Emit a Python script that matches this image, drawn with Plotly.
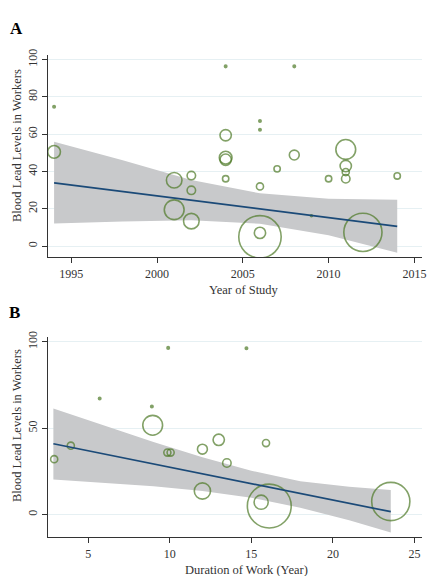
import plotly.graph_objects as go

# ---------------- Panel A: Year of Study ----------------
year = [1994, 1994, 2001, 2001, 2002, 2002, 2002, 2004, 2008, 2006, 2006, 2004, 2004, 2004,
        2004, 2006, 2007, 2008, 2010, 2011, 2011, 2011, 2011, 2014, 2006, 2006, 2012, 2009]
bll_a = [74.7, 50.5, 35.3, 19.5, 37.8, 29.9, 13.4, 96.3, 96.3, 67.0, 62.4, 59.4, 47.4, 46.3,
         36.1, 32.0, 41.4, 48.8, 36.1, 51.8, 42.9, 39.7, 36.1, 37.6, 7.1, 5.0, 7.4, 16.3]
weight_a = [3, 81, 121, 196, 36, 36, 121, 3, 3, 3, 3, 64, 81, 64,
            20, 25, 20, 49, 20, 196, 64, 25, 36, 20, 64, 900, 729, 1]

fit_a_x = [1994, 2014]
fit_a_y = [33.9, 10.6]
ci_a_x = [1994, 1998, 2002, 2006, 2010, 2014]
ci_a_upper = [55.9, 46.0, 35.5, 28.3, 25.4, 24.8]
ci_a_lower = [12.2, 13.2, 13.9, 12.0, 5.8, -3.5]

# ---------------- Panel B: Duration of Work ----------------
duration = [2.91, 3.93, 5.7, 8.9, 9.9, 8.95, 9.85, 10.05, 12.0, 12.0, 14.7, 13.0, 15.9, 13.5,
            15.6, 16.1, 23.55]
bll_b = [32.1, 39.9, 67.2, 62.6, 96.5, 51.7, 35.9, 35.9, 37.9, 13.7, 96.3, 43.3, 41.4, 29.9,
         7.2, 5.0, 7.6]
weight_b = [25, 25, 3, 3, 3, 196, 25, 25, 49, 132, 3, 64, 25, 36, 100, 961, 729]

fit_b_x = [2.86, 23.55]
fit_b_y = [41.0, 1.7]
ci_b_x = [2.86, 6, 9, 12, 15, 18, 21, 23.55]
ci_b_upper = [61.4, 51.5, 42.0, 33.2, 25.4, 19.3, 16.2, 14.3]
ci_b_lower = [20.4, 18.5, 16.4, 13.7, 9.8, 4.0, -3.3, -10.3]

GREEN = "#4e7a27"
BLUE = "#1b4a78"
BAND = "#c8c9cb"
GRID = "#e6f0f3"
AXIS = "#333333"
FONT = "Liberation Serif"

fig = go.Figure()

def add_panel(fig, xa, ya, cx, cu, cl, px, py, w, fx, fy):
    fig.add_trace(go.Scatter(
        x=cx + cx[::-1], y=cu + cl[::-1], fill="toself", fillcolor=BAND,
        line=dict(width=0), mode="lines", hoverinfo="skip", showlegend=False,
        xaxis=xa, yaxis=ya))
    fills = [GREEN if v <= 9 else "rgba(0,0,0,0)" for v in w]
    fig.add_trace(go.Scatter(
        x=px, y=py, mode="markers", showlegend=False, xaxis=xa, yaxis=ya,
        marker=dict(size=w, sizemode="area", sizeref=1, sizemin=1,
                    color=fills, symbol="circle",
                    line=dict(color=GREEN, width=1.6))))
    fig.add_trace(go.Scatter(
        x=fx, y=fy, mode="lines", showlegend=False, xaxis=xa, yaxis=ya,
        line=dict(color=BLUE, width=1.7)))

add_panel(fig, "x", "y", ci_a_x, ci_a_upper, ci_a_lower, year, bll_a, weight_a, fit_a_x, fit_a_y)
add_panel(fig, "x2", "y2", ci_b_x, ci_b_upper, ci_b_lower, duration, bll_b, weight_b, fit_b_x, fit_b_y)

xdom = [48.3 / 432, 426.7 / 432]
tickfont = dict(family=FONT, size=12, color=AXIS)

common_x = dict(showline=True, linecolor=AXIS, linewidth=1, ticks="outside", ticklen=5,
                tickcolor=AXIS, showgrid=False, zeroline=False, tickfont=tickfont)
common_y = dict(showline=True, linecolor=AXIS, linewidth=1, ticks="outside", ticklen=5,
                tickcolor=AXIS, showgrid=True, gridcolor=GRID, gridwidth=1, zeroline=False,
                tickfont=tickfont, tickangle=-90)

fig.update_layout(
    width=432, height=576,
    margin=dict(l=0, r=0, t=0, b=0),
    paper_bgcolor="white", plot_bgcolor="white",
    font=dict(family=FONT, color=AXIS),
    xaxis=dict(domain=xdom, anchor="y", range=[1993.63, 2015.43],
               tickvals=[1995, 2000, 2005, 2010, 2015], **common_x),
    yaxis=dict(domain=[(576 - 254) / 576, (576 - 49.3) / 576], anchor="x",
               range=[-6, 102.5], tickvals=[0, 20, 40, 60, 80, 100], **common_y),
    xaxis2=dict(domain=xdom, anchor="y2", range=[2.515, 25.45],
                tickvals=[5, 10, 15, 20, 25], **common_x),
    yaxis2=dict(domain=[(576 - 536.7) / 576, (576 - 334.3) / 576], anchor="x2",
                range=[-13, 102.9], tickvals=[0, 50, 100], **common_y),
)

annots = [
    dict(text="<b>A</b>", x=16.7 / 432, y=(576 - 23) / 576, font=dict(size=17, family=FONT, color="black")),
    dict(text="<b>B</b>", x=15 / 432, y=(576 - 310) / 576, font=dict(size=17, family=FONT, color="black")),
    dict(text="Year of Study", x=247 / 432, y=(576 - 286.7) / 576, font=dict(size=12.5, family=FONT, color=AXIS)),
    dict(text="Duration of Work (Year)", x=249 / 432, y=(576 - 570) / 576, font=dict(size=12.5, family=FONT, color=AXIS)),
    dict(text="Blood Lead Levels in Workers", x=16.7 / 432, y=(576 - 141) / 576, textangle=-90,
         font=dict(size=12.5, family=FONT, color=AXIS)),
    dict(text="Blood Lead Levels in Workers", x=16.7 / 432, y=(576 - 424) / 576, textangle=-90,
         font=dict(size=12.5, family=FONT, color=AXIS)),
]
for a in annots:
    fig.add_annotation(xref="paper", yref="paper", showarrow=False,
                       xanchor="center", yanchor="middle", **a)

fig.write_html("out.html")
